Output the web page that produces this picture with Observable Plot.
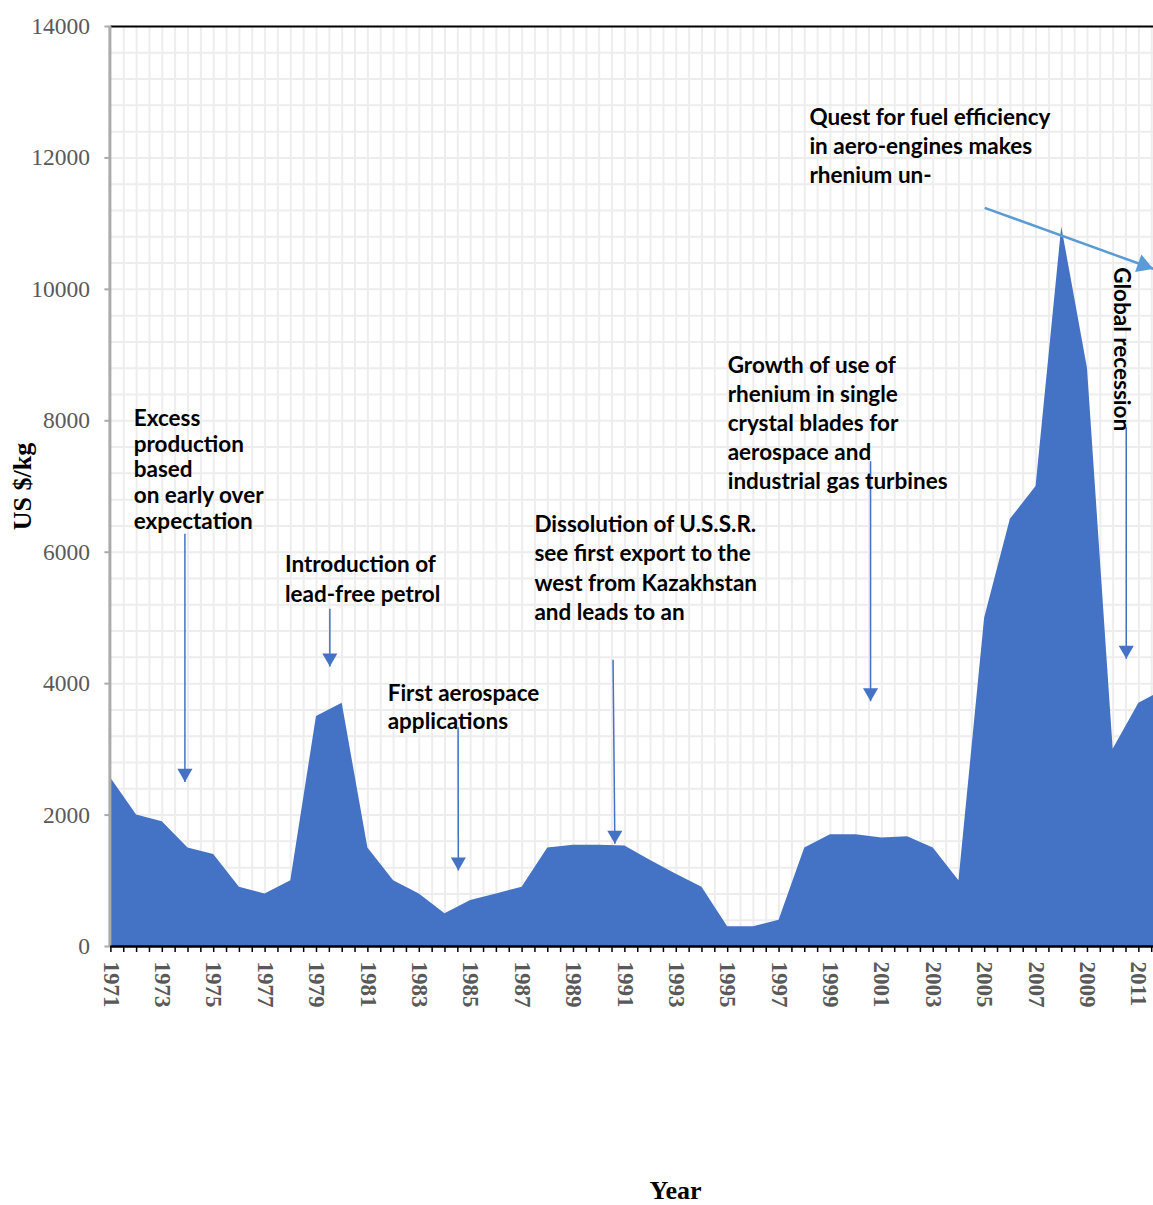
<!DOCTYPE html>
<html>
<head>
<meta charset="utf-8">
<script src="https://cdn.jsdelivr.net/npm/d3@7"></script>
<script src="https://cdn.jsdelivr.net/npm/@observablehq/plot@0.6"></script>
<style>
  html, body { margin: 0; padding: 0; background: #ffffff; }
  #chart svg { display: block; }
</style>
</head>
<body>
<div id="chart"></div>
<script>
// ---- data ----
const years = [1971,1972,1973,1974,1975,1976,1977,1978,1979,1980,
               1981,1982,1983,1984,1985,1986,1987,1988,1989,1990,
               1991,1992,1993,1994,1995,1996,1997,1998,1999,2000,
               2001,2002,2003,2004,2005,2006,2007,2008,2009,2010,
               2011,2012];
const prices = [2560,2000,1900,1500,1400,900,800,1000,3500,3700,
                1500,1000,800,500,700,800,900,1500,1540,1540,
                1530,1310,1100,900,300,300,400,1500,1700,1700,
                1650,1670,1500,1000,5000,6500,7000,10950,8800,3000,
                3700,3910];
const yTickValues = [0,2000,4000,6000,8000,10000,12000,14000];
const xTickLabels = [1971,1973,1975,1977,1979,1981,1983,1985,1987,1989,
                     1991,1993,1995,1997,1999,2001,2003,2005,2007,2009,2011];

// annotations: text, anchor year (left edge), anchor value (first baseline), line spacing in px
const noteTexts = [
  "Excess\nproduction\nbased\non early over\nexpectation",
  "Introduction of\nlead-free petrol",
  "First aerospace\napplications",
  "Dissolution of U.S.S.R.\nsee first export to the\nwest from Kazakhstan\nand leads to an",
  "Growth of use of\nrhenium in single\ncrystal blades for\naerospace and\nindustrial gas turbines",
  "Quest for fuel efficiency\nin aero-engines makes\nrhenium un-"
];
const noteYears  = [1971.89, 1977.77, 1981.77, 1987.48, 1995.00, 1998.18];
const noteValues = [7918, 5696, 3743, 6305, 8730, 12504];
const noteLineSpacing = [25.6, 30, 28.3, 29.2, 29, 29.2];

// vertical arrows: year at start, value at start, year at tip, value at tip
const arrowYear1  = [1973.88, 1979.52, 1984.51, 1990.54, 2000.56, 2010.51];
const arrowValue1 = [6280, 5139, 3337, 4363, 7385, 7902];
const arrowYear2  = [1973.88, 1979.52, 1984.52, 1990.61, 2000.56, 2010.51];
const arrowValue2 = [2505, 4261, 1157, 1563, 3733, 4378];

// slanted arrow (quest)
const questArrow = {year1: 2005.0, value1: 11240, year2: 2011.56, value2: 10313};
const recessionText = {text: "Global recession", year: 2010.33, value: 10337};

// ---- build tables ----
const data = years.map((y, i) => ({year: y, price: prices[i]}));
const notes = noteTexts.map((t, i) => ({text: t, year: noteYears[i], value: noteValues[i], ls: noteLineSpacing[i]}));
const arrows = arrowYear1.map((y, i) => ({x1: y, y1: arrowValue1[i], x2: arrowYear2[i], y2: arrowValue2[i]}));

const gridYValues = d3.range(400, 14000, 400);
const gridXValues = d3.range(1971.5, 2011.6, 0.5);
const minorXTicks = d3.range(1971, 2011.6, 0.5);

const annFont = "Lato, 'Open Sans', sans-serif";
const annSize = 22.5;
const blue = "#4472C4";

const noteMarks = notes.map(n => Plot.text([n], {
  x: "year", y: "value", text: "text",
  textAnchor: "start", lineAnchor: "top", lineHeight: n.ls / annSize, dy: -0.71 * n.ls,
  fontFamily: annFont, fontWeight: "bold", fontSize: annSize, fill: "black"
}));

const plot = Plot.plot({
  width: 1153,
  height: 1205,
  marginLeft: 110.4,
  marginRight: 0,
  marginTop: 26,
  marginBottom: 259,
  style: {fontFamily: "'Liberation Serif', 'Times New Roman', serif", background: "white", overflow: "visible"},
  x: {domain: [1971, 2011.57], label: null},
  y: {domain: [0, 14000], label: null},
  marks: [
    Plot.gridY(gridYValues, {stroke: "#EDEDED", strokeOpacity: 1, strokeWidth: 2}),
    Plot.gridX(gridXValues, {stroke: "#EDEDED", strokeOpacity: 1, strokeWidth: 2}),
    Plot.areaY(data, {x: "year", y: "price", fill: blue, clip: true}),
    Plot.ruleY([14000], {stroke: "black", strokeWidth: 2}),
    Plot.ruleX([1971], {stroke: "#ABABAB", strokeWidth: 3, dx: -1}),
    Plot.axisY(yTickValues, {tickSize: 6, tickPadding: 15, stroke: "#ABABAB", strokeWidth: 2, fill: "#595959", fontSize: 23.5, tickFormat: d => String(d), label: null}),
    Plot.ruleY([0], {stroke: "black", strokeWidth: 2.5}),
    Plot.axisX(minorXTicks, {tickSize: 6, stroke: "black", strokeWidth: 1.5, tickFormat: () => "", label: null}),
    Plot.axisX(xTickLabels, {tickSize: 0, tickPadding: 15, tickRotate: 90, tickFormat: d => String(d), fill: "#595959", fontSize: 23, fontWeight: "bold", label: null}),
    // arrows
    Plot.link(arrows, {x1: "x1", y1: "y1", x2: "x2", y2: "y2", stroke: blue, strokeWidth: 1.5}),
    Plot.dot(arrows, {x: "x2", y: "y2", symbol: "triangle", rotate: 180, r: 5.6, dy: -8.66, fill: blue, stroke: "none"}),
    Plot.link([questArrow], {x1: "year1", y1: "value1", x2: "year2", y2: "value2", stroke: "#5B9BD5", strokeWidth: 2.5}),
    Plot.dot([questArrow], {x: "year2", y: "value2", symbol: "triangle", rotate: 110, r: 6.9, dx: -10, dy: -3.6, fill: "#5B9BD5", stroke: "none"}),
    // annotations
    ...noteMarks,
    Plot.text([recessionText], {x: "year", y: "value", text: "text", rotate: 90, textAnchor: "start", lineAnchor: "middle",
      fontFamily: annFont, fontWeight: "bold", fontSize: annSize, fill: "black"}),
    // axis titles
    Plot.text(["US $/kg"], {frameAnchor: "left", dx: -88.4, rotate: -90, lineAnchor: "middle", textAnchor: "middle",
      fontSize: 26, fontWeight: "bold", fill: "black"}),
    Plot.text(["Year"], {frameAnchor: "bottom", dx: 43.3, dy: 244.5, lineAnchor: "middle", textAnchor: "middle",
      fontSize: 26, fontWeight: "bold", fill: "black"})
  ]
});
document.getElementById("chart").appendChild(plot);
</script>
</body>
</html>
